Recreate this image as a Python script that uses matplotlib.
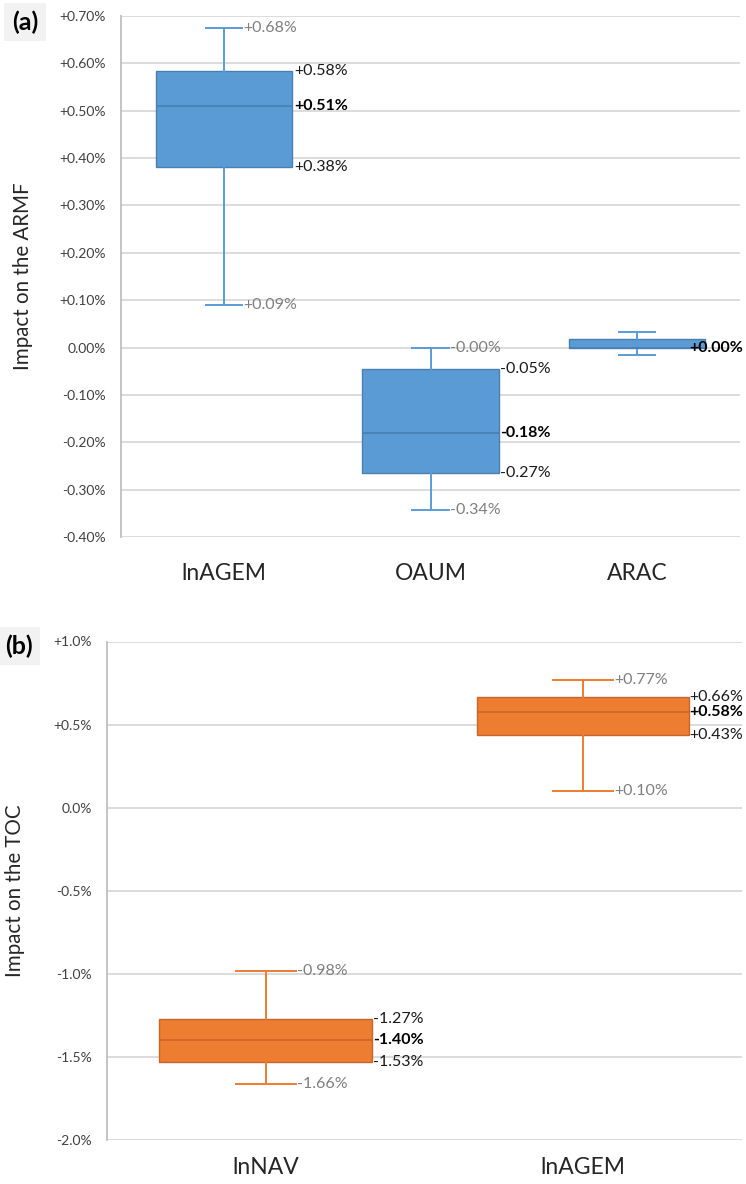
import matplotlib
matplotlib.use('Agg')
from matplotlib import pyplot as plt
from matplotlib.ticker import FuncFormatter, MultipleLocator
from matplotlib.transforms import offset_copy

plt.rcParams['font.family'] = ['Lato', 'DejaVu Sans']

# (a) impacto no ARMF
cat_a = ['lnAGEM', 'OAUM', 'ARAC']
whislo_a = [0.09, -0.344, -0.015]
q1_a = [0.381, -0.265, 0.0]
med_a = [0.51, -0.181, 0.0]
q3_a = [0.583, -0.046, 0.017]
whishi_a = [0.675, -0.001, 0.033]
rotulos_a = [True, True, False]

# (b) impacto no TOC
cat_b = ['lnNAV', 'lnAGEM']
whislo_b = [-1.66, 0.099]
q1_b = [-1.533, 0.435]
med_b = [-1.40, 0.577]
q3_b = [-1.274, 0.664]
whishi_b = [-0.983, 0.768]
rotulos_b = [True, True]

AZUL = '#5B9BD5'
AZUL_ESC = '#4A7FB0'
LARANJA = '#ED7D31'
LARANJA_ESC = '#C8652A'


def montar_stats(lo, q1, med, q3, hi):
    stats = []
    for i in range(len(med)):
        stats.append({'whislo': lo[i], 'q1': q1[i], 'med': med[i],
                      'q3': q3[i], 'whishi': hi[i], 'fliers': []})
    return stats


def fmt_pct(casas):
    def f(v, pos):
        if abs(v) < 1e-9:
            return f'{0:.{casas}f}%'
        return f'{v:+.{casas}f}%'
    return FuncFormatter(f)


def desenhar(ax, cats, stats, cor, cor_esc, larg, cap, mostrar, ylim, passo, casas,
             ylabel, pad_x):
    pos = list(range(len(cats)))
    ax.bxp(stats, positions=pos, widths=larg, capwidths=cap, patch_artist=True,
           manage_ticks=False,
           boxprops=dict(facecolor=cor, edgecolor=cor_esc, linewidth=1.0),
           medianprops=dict(color=cor_esc, linewidth=1.2),
           whiskerprops=dict(color=cor, linewidth=1.4),
           capprops=dict(color=cor, linewidth=1.4))
    ax.set_xlim(-0.5, len(cats) - 0.5)
    ax.set_ylim(*ylim)
    ax.yaxis.set_major_locator(MultipleLocator(passo))
    ax.yaxis.set_major_formatter(fmt_pct(casas))
    ax.grid(axis='y', color='#D9D9D9', linewidth=1.3)
    ax.set_axisbelow(True)
    for lado in ['top', 'right', 'bottom']:
        ax.spines[lado].set_visible(False)
    ax.spines['left'].set_color('#BFBFBF')
    ax.spines['left'].set_linewidth(1.3)
    ax.tick_params(axis='y', length=0, pad=11, labelsize=10, labelcolor='#404040')
    ax.tick_params(axis='x', length=0, pad=pad_x, labelsize=16.5, labelcolor='#262626')
    ax.set_xticks(pos)
    ax.set_xticklabels(cats)
    ax.set_ylabel(ylabel, fontsize=14.8, color='#262626')

    trans = offset_copy(ax.transData, fig=ax.figure, x=1.5, y=0, units='dots')
    textos = []
    for i, s in enumerate(stats):
        xc = pos[i] + cap / 2
        xb = pos[i] + larg / 2
        if mostrar[i]:
            textos.append(ax.text(xc, s['whishi'], f"{s['whishi']:+.2f}%", color='#7F7F7F',
                                  fontsize=11.5, ha='left', va='center', clip_on=False,
                                  transform=trans))
            textos.append(ax.text(xc, s['whislo'], f"{s['whislo']:+.2f}%", color='#7F7F7F',
                                  fontsize=11.5, ha='left', va='center', clip_on=False,
                                  transform=trans))
            textos.append(ax.text(xb, s['q3'], f"{s['q3']:+.2f}%", color='#1A1A1A',
                                  fontsize=11.5, ha='left', va='center', clip_on=False,
                                  transform=trans))
            textos.append(ax.text(xb, s['q1'], f"{s['q1']:+.2f}%", color='#1A1A1A',
                                  fontsize=11.5, ha='left', va='center', clip_on=False,
                                  transform=trans))
        textos.append(ax.text(xb, s['med'], f"{s['med']:+.2f}%", color='black',
                              fontsize=11.5, fontweight='bold', ha='left', va='center',
                              clip_on=False, transform=trans))
    return textos


fig = plt.figure(figsize=(7.46, 11.84), dpi=100)
ax1 = fig.add_axes([121 / 746, 1 - 537 / 1184, 619 / 746, 521 / 1184])
ax2 = fig.add_axes([107 / 746, 1 - 1140 / 1184, 634.7 / 746, 498.5 / 1184])

t1 = desenhar(ax1, cat_a, montar_stats(whislo_a, q1_a, med_a, q3_a, whishi_a),
              AZUL, AZUL_ESC, 0.66, 0.175, rotulos_a, (-0.40, 0.70), 0.10, 2,
              'Impact on the ARMF', 19)
t2 = desenhar(ax2, cat_b, montar_stats(whislo_b, q1_b, med_b, q3_b, whishi_b),
              LARANJA, LARANJA_ESC, 0.67, 0.19, rotulos_b, (-2.0, 1.0), 0.5, 1,
              'Impact on the TOC', 12)

ax1.yaxis.set_label_coords((33 - 121) / 619, 0.5)
ax2.yaxis.set_label_coords((25 - 107) / 634.7, 0.5)

# empurra para dentro os rotulos que passam da borda (como no Excel)
fig.canvas.draw()
r = fig.canvas.get_renderer()
for ax, textos in [(ax1, t1), (ax2, t2)]:
    for t in textos:
        bb = t.get_window_extent(r)
        limite = fig.bbox.width - 3
        if bb.x1 > limite:
            x, y = t.get_position()
            xd, yd = ax.transData.transform((x, y))
            xn, yn = ax.transData.inverted().transform((xd - (bb.x1 - limite), yd))
            t.set_position((xn, y))

fig.text(25 / 746, 1 - 22 / 1184, '(a)', fontsize=18, fontweight='bold', ha='center', va='center',
         bbox=dict(facecolor='#F2F2F2', edgecolor='none', boxstyle='square,pad=0.3'))
fig.text(19 / 746, 1 - 646 / 1184, '(b)', fontsize=18, fontweight='bold', ha='center', va='center',
         bbox=dict(facecolor='#F2F2F2', edgecolor='none', boxstyle='square,pad=0.3'))

fig.savefig('out.png', dpi=100)
